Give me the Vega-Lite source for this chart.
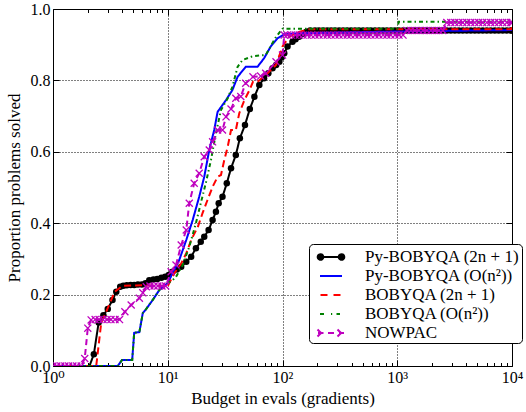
{
  "$schema": "https://vega.github.io/schema/vega-lite/v6.json",
  "width": 459,
  "height": 357,
  "autosize": {"type": "none"},
  "padding": {"left": 53, "top": 9, "right": 14, "bottom": 46},
  "config": {
    "view": {"stroke": "black", "strokeWidth": 1},
    "font": "'Liberation Serif', 'Times New Roman', 'DejaVu Serif', serif",
    "axis": {
      "domain": false,
      "tickColor": "black",
      "tickWidth": 1,
      "gridColor": "black",
      "gridDash": [1, 2],
      "gridWidth": 1,
      "labelFont": "'Liberation Serif', 'Times New Roman', 'DejaVu Serif', serif",
      "labelFontSize": 16,
      "labelColor": "black",
      "titleFont": "'Liberation Serif', 'Times New Roman', 'DejaVu Serif', serif",
      "titleFontSize": 17,
      "titleFontWeight": "normal",
      "titleColor": "black",
      "labelFlush": false,
      "labelOverlap": false,
      "labelBound": false
    }
  },
  "datasets": {
    "curves": [
      {"s": "Py-BOBYQA (2n + 1)", "x": 1, "y": 0},
      {"s": "Py-BOBYQA (2n + 1)", "x": 2.08, "y": 0},
      {"s": "Py-BOBYQA (2n + 1)", "x": 2.27, "y": 0.033},
      {"s": "Py-BOBYQA (2n + 1)", "x": 2.5, "y": 0.122},
      {"s": "Py-BOBYQA (2n + 1)", "x": 2.75, "y": 0.142},
      {"s": "Py-BOBYQA (2n + 1)", "x": 3.0, "y": 0.16},
      {"s": "Py-BOBYQA (2n + 1)", "x": 3.3, "y": 0.185},
      {"s": "Py-BOBYQA (2n + 1)", "x": 3.56, "y": 0.208},
      {"s": "Py-BOBYQA (2n + 1)", "x": 3.85, "y": 0.222},
      {"s": "Py-BOBYQA (2n + 1)", "x": 4.1, "y": 0.225},
      {"s": "Py-BOBYQA (2n + 1)", "x": 4.4, "y": 0.226},
      {"s": "Py-BOBYQA (2n + 1)", "x": 4.75, "y": 0.227},
      {"s": "Py-BOBYQA (2n + 1)", "x": 5.1, "y": 0.227},
      {"s": "Py-BOBYQA (2n + 1)", "x": 5.5, "y": 0.228},
      {"s": "Py-BOBYQA (2n + 1)", "x": 5.95, "y": 0.228},
      {"s": "Py-BOBYQA (2n + 1)", "x": 6.4, "y": 0.232},
      {"s": "Py-BOBYQA (2n + 1)", "x": 6.9, "y": 0.24},
      {"s": "Py-BOBYQA (2n + 1)", "x": 7.5, "y": 0.242},
      {"s": "Py-BOBYQA (2n + 1)", "x": 8.1, "y": 0.244},
      {"s": "Py-BOBYQA (2n + 1)", "x": 8.8, "y": 0.247},
      {"s": "Py-BOBYQA (2n + 1)", "x": 9.5, "y": 0.25},
      {"s": "Py-BOBYQA (2n + 1)", "x": 10.2, "y": 0.255},
      {"s": "Py-BOBYQA (2n + 1)", "x": 11.0, "y": 0.264},
      {"s": "Py-BOBYQA (2n + 1)", "x": 12.0, "y": 0.27},
      {"s": "Py-BOBYQA (2n + 1)", "x": 13.1, "y": 0.278},
      {"s": "Py-BOBYQA (2n + 1)", "x": 14.5, "y": 0.292},
      {"s": "Py-BOBYQA (2n + 1)", "x": 16.0, "y": 0.306},
      {"s": "Py-BOBYQA (2n + 1)", "x": 17.6, "y": 0.33},
      {"s": "Py-BOBYQA (2n + 1)", "x": 19.4, "y": 0.348},
      {"s": "Py-BOBYQA (2n + 1)", "x": 20.8, "y": 0.362},
      {"s": "Py-BOBYQA (2n + 1)", "x": 22.7, "y": 0.381},
      {"s": "Py-BOBYQA (2n + 1)", "x": 24.6, "y": 0.409},
      {"s": "Py-BOBYQA (2n + 1)", "x": 26.3, "y": 0.432},
      {"s": "Py-BOBYQA (2n + 1)", "x": 27.8, "y": 0.456},
      {"s": "Py-BOBYQA (2n + 1)", "x": 30.0, "y": 0.474},
      {"s": "Py-BOBYQA (2n + 1)", "x": 32.7, "y": 0.512},
      {"s": "Py-BOBYQA (2n + 1)", "x": 35.6, "y": 0.554},
      {"s": "Py-BOBYQA (2n + 1)", "x": 39.2, "y": 0.591},
      {"s": "Py-BOBYQA (2n + 1)", "x": 42.5, "y": 0.638},
      {"s": "Py-BOBYQA (2n + 1)", "x": 47.1, "y": 0.675},
      {"s": "Py-BOBYQA (2n + 1)", "x": 51.9, "y": 0.72},
      {"s": "Py-BOBYQA (2n + 1)", "x": 56.9, "y": 0.754},
      {"s": "Py-BOBYQA (2n + 1)", "x": 62.8, "y": 0.787},
      {"s": "Py-BOBYQA (2n + 1)", "x": 69.1, "y": 0.806},
      {"s": "Py-BOBYQA (2n + 1)", "x": 75.3, "y": 0.82},
      {"s": "Py-BOBYQA (2n + 1)", "x": 81.9, "y": 0.834},
      {"s": "Py-BOBYQA (2n + 1)", "x": 88, "y": 0.843},
      {"s": "Py-BOBYQA (2n + 1)", "x": 93.9, "y": 0.852},
      {"s": "Py-BOBYQA (2n + 1)", "x": 98.5, "y": 0.865},
      {"s": "Py-BOBYQA (2n + 1)", "x": 103.6, "y": 0.876},
      {"s": "Py-BOBYQA (2n + 1)", "x": 110.6, "y": 0.895},
      {"s": "Py-BOBYQA (2n + 1)", "x": 122.2, "y": 0.908},
      {"s": "Py-BOBYQA (2n + 1)", "x": 130, "y": 0.915},
      {"s": "Py-BOBYQA (2n + 1)", "x": 139.2, "y": 0.922},
      {"s": "Py-BOBYQA (2n + 1)", "x": 150, "y": 0.93},
      {"s": "Py-BOBYQA (2n + 1)", "x": 162, "y": 0.936},
      {"s": "Py-BOBYQA (2n + 1)", "x": 174, "y": 0.94},
      {"s": "Py-BOBYQA (2n + 1)", "x": 192, "y": 0.94},
      {"s": "Py-BOBYQA (2n + 1)", "x": 208, "y": 0.94},
      {"s": "Py-BOBYQA (2n + 1)", "x": 226, "y": 0.94},
      {"s": "Py-BOBYQA (2n + 1)", "x": 245, "y": 0.94},
      {"s": "Py-BOBYQA (2n + 1)", "x": 265, "y": 0.94},
      {"s": "Py-BOBYQA (2n + 1)", "x": 287, "y": 0.94},
      {"s": "Py-BOBYQA (2n + 1)", "x": 311, "y": 0.94},
      {"s": "Py-BOBYQA (2n + 1)", "x": 337, "y": 0.94},
      {"s": "Py-BOBYQA (2n + 1)", "x": 366, "y": 0.94},
      {"s": "Py-BOBYQA (2n + 1)", "x": 395, "y": 0.94},
      {"s": "Py-BOBYQA (2n + 1)", "x": 428, "y": 0.94},
      {"s": "Py-BOBYQA (2n + 1)", "x": 464, "y": 0.94},
      {"s": "Py-BOBYQA (2n + 1)", "x": 503, "y": 0.94},
      {"s": "Py-BOBYQA (2n + 1)", "x": 546, "y": 0.94},
      {"s": "Py-BOBYQA (2n + 1)", "x": 590, "y": 0.94},
      {"s": "Py-BOBYQA (2n + 1)", "x": 640, "y": 0.94},
      {"s": "Py-BOBYQA (2n + 1)", "x": 693, "y": 0.94},
      {"s": "Py-BOBYQA (2n + 1)", "x": 752, "y": 0.94},
      {"s": "Py-BOBYQA (2n + 1)", "x": 813, "y": 0.94},
      {"s": "Py-BOBYQA (2n + 1)", "x": 881, "y": 0.94},
      {"s": "Py-BOBYQA (2n + 1)", "x": 955, "y": 0.94},
      {"s": "Py-BOBYQA (2n + 1)", "x": 1035, "y": 0.94},
      {"s": "Py-BOBYQA (2n + 1)", "x": 1122, "y": 0.94},
      {"s": "Py-BOBYQA (2n + 1)", "x": 1213, "y": 0.94},
      {"s": "Py-BOBYQA (2n + 1)", "x": 1315, "y": 0.94},
      {"s": "Py-BOBYQA (2n + 1)", "x": 1426, "y": 0.94},
      {"s": "Py-BOBYQA (2n + 1)", "x": 1545, "y": 0.94},
      {"s": "Py-BOBYQA (2n + 1)", "x": 1675, "y": 0.94},
      {"s": "Py-BOBYQA (2n + 1)", "x": 1811, "y": 0.94},
      {"s": "Py-BOBYQA (2n + 1)", "x": 1963, "y": 0.94},
      {"s": "Py-BOBYQA (2n + 1)", "x": 2128, "y": 0.94},
      {"s": "Py-BOBYQA (2n + 1)", "x": 2307, "y": 0.94},
      {"s": "Py-BOBYQA (2n + 1)", "x": 2495, "y": 0.94},
      {"s": "Py-BOBYQA (2n + 1)", "x": 2704, "y": 0.94},
      {"s": "Py-BOBYQA (2n + 1)", "x": 2931, "y": 0.94},
      {"s": "Py-BOBYQA (2n + 1)", "x": 3177, "y": 0.94},
      {"s": "Py-BOBYQA (2n + 1)", "x": 3443, "y": 0.94},
      {"s": "Py-BOBYQA (2n + 1)", "x": 3724, "y": 0.94},
      {"s": "Py-BOBYQA (2n + 1)", "x": 4036, "y": 0.94},
      {"s": "Py-BOBYQA (2n + 1)", "x": 4375, "y": 0.94},
      {"s": "Py-BOBYQA (2n + 1)", "x": 4742, "y": 0.94},
      {"s": "Py-BOBYQA (2n + 1)", "x": 5129, "y": 0.94},
      {"s": "Py-BOBYQA (2n + 1)", "x": 5559, "y": 0.94},
      {"s": "Py-BOBYQA (2n + 1)", "x": 6026, "y": 0.94},
      {"s": "Py-BOBYQA (2n + 1)", "x": 6531, "y": 0.94},
      {"s": "Py-BOBYQA (2n + 1)", "x": 7079, "y": 0.94},
      {"s": "Py-BOBYQA (2n + 1)", "x": 7656, "y": 0.94},
      {"s": "Py-BOBYQA (2n + 1)", "x": 8299, "y": 0.94},
      {"s": "Py-BOBYQA (2n + 1)", "x": 8995, "y": 0.94},
      {"s": "Py-BOBYQA (2n + 1)", "x": 9750, "y": 0.94},
      {"s": "Py-BOBYQA (2n + 1)", "x": 10000, "y": 0.94},

      {"s": "Py-BOBYQA (O(n²))", "x": 1, "y": 0},
      {"s": "Py-BOBYQA (O(n²))", "x": 3.67, "y": 0},
      {"s": "Py-BOBYQA (O(n²))", "x": 4.0, "y": 0.017},
      {"s": "Py-BOBYQA (O(n²))", "x": 4.9, "y": 0.017},
      {"s": "Py-BOBYQA (O(n²))", "x": 5.1, "y": 0.093},
      {"s": "Py-BOBYQA (O(n²))", "x": 5.66, "y": 0.095},
      {"s": "Py-BOBYQA (O(n²))", "x": 6.06, "y": 0.148},
      {"s": "Py-BOBYQA (O(n²))", "x": 6.5, "y": 0.16},
      {"s": "Py-BOBYQA (O(n²))", "x": 7.4, "y": 0.185},
      {"s": "Py-BOBYQA (O(n²))", "x": 8.45, "y": 0.213},
      {"s": "Py-BOBYQA (O(n²))", "x": 10, "y": 0.232},
      {"s": "Py-BOBYQA (O(n²))", "x": 11, "y": 0.26},
      {"s": "Py-BOBYQA (O(n²))", "x": 12.6, "y": 0.297},
      {"s": "Py-BOBYQA (O(n²))", "x": 14.5, "y": 0.353},
      {"s": "Py-BOBYQA (O(n²))", "x": 16.5, "y": 0.409},
      {"s": "Py-BOBYQA (O(n²))", "x": 18.8, "y": 0.474},
      {"s": "Py-BOBYQA (O(n²))", "x": 20.8, "y": 0.53},
      {"s": "Py-BOBYQA (O(n²))", "x": 23, "y": 0.605},
      {"s": "Py-BOBYQA (O(n²))", "x": 25.4, "y": 0.661},
      {"s": "Py-BOBYQA (O(n²))", "x": 27.2, "y": 0.712},
      {"s": "Py-BOBYQA (O(n²))", "x": 32.2, "y": 0.745},
      {"s": "Py-BOBYQA (O(n²))", "x": 36.6, "y": 0.773},
      {"s": "Py-BOBYQA (O(n²))", "x": 40.6, "y": 0.81},
      {"s": "Py-BOBYQA (O(n²))", "x": 47.8, "y": 0.838},
      {"s": "Py-BOBYQA (O(n²))", "x": 60.5, "y": 0.838},
      {"s": "Py-BOBYQA (O(n²))", "x": 69.1, "y": 0.862},
      {"s": "Py-BOBYQA (O(n²))", "x": 79, "y": 0.895},
      {"s": "Py-BOBYQA (O(n²))", "x": 90.4, "y": 0.918},
      {"s": "Py-BOBYQA (O(n²))", "x": 103.6, "y": 0.929},
      {"s": "Py-BOBYQA (O(n²))", "x": 139, "y": 0.932},
      {"s": "Py-BOBYQA (O(n²))", "x": 1000, "y": 0.937},
      {"s": "Py-BOBYQA (O(n²))", "x": 10000, "y": 0.941},

      {"s": "BOBYQA (2n + 1)", "x": 1, "y": 0},
      {"s": "BOBYQA (2n + 1)", "x": 2.38, "y": 0},
      {"s": "BOBYQA (2n + 1)", "x": 2.63, "y": 0.12},
      {"s": "BOBYQA (2n + 1)", "x": 3.0, "y": 0.162},
      {"s": "BOBYQA (2n + 1)", "x": 3.45, "y": 0.208},
      {"s": "BOBYQA (2n + 1)", "x": 4.04, "y": 0.225},
      {"s": "BOBYQA (2n + 1)", "x": 6, "y": 0.226},
      {"s": "BOBYQA (2n + 1)", "x": 10, "y": 0.224},
      {"s": "BOBYQA (2n + 1)", "x": 11.4, "y": 0.26},
      {"s": "BOBYQA (2n + 1)", "x": 13.1, "y": 0.287},
      {"s": "BOBYQA (2n + 1)", "x": 14.5, "y": 0.316},
      {"s": "BOBYQA (2n + 1)", "x": 16, "y": 0.353},
      {"s": "BOBYQA (2n + 1)", "x": 18.3, "y": 0.39},
      {"s": "BOBYQA (2n + 1)", "x": 20.1, "y": 0.428},
      {"s": "BOBYQA (2n + 1)", "x": 22.2, "y": 0.465},
      {"s": "BOBYQA (2n + 1)", "x": 24.6, "y": 0.502},
      {"s": "BOBYQA (2n + 1)", "x": 27.2, "y": 0.53},
      {"s": "BOBYQA (2n + 1)", "x": 29.1, "y": 0.535},
      {"s": "BOBYQA (2n + 1)", "x": 31.1, "y": 0.577},
      {"s": "BOBYQA (2n + 1)", "x": 33.3, "y": 0.614},
      {"s": "BOBYQA (2n + 1)", "x": 35.6, "y": 0.661},
      {"s": "BOBYQA (2n + 1)", "x": 39.2, "y": 0.661},
      {"s": "BOBYQA (2n + 1)", "x": 42, "y": 0.708},
      {"s": "BOBYQA (2n + 1)", "x": 46.6, "y": 0.745},
      {"s": "BOBYQA (2n + 1)", "x": 51.6, "y": 0.773},
      {"s": "BOBYQA (2n + 1)", "x": 55.3, "y": 0.796},
      {"s": "BOBYQA (2n + 1)", "x": 60.5, "y": 0.796},
      {"s": "BOBYQA (2n + 1)", "x": 71.4, "y": 0.815},
      {"s": "BOBYQA (2n + 1)", "x": 87.8, "y": 0.843},
      {"s": "BOBYQA (2n + 1)", "x": 100, "y": 0.895},
      {"s": "BOBYQA (2n + 1)", "x": 114, "y": 0.922},
      {"s": "BOBYQA (2n + 1)", "x": 139, "y": 0.936},
      {"s": "BOBYQA (2n + 1)", "x": 170, "y": 0.943},
      {"s": "BOBYQA (2n + 1)", "x": 9800, "y": 0.943},
      {"s": "BOBYQA (2n + 1)", "x": 10000, "y": 0.95},

      {"s": "BOBYQA (O(n²))", "x": 1, "y": 0},
      {"s": "BOBYQA (O(n²))", "x": 3.67, "y": 0},
      {"s": "BOBYQA (O(n²))", "x": 4.0, "y": 0.017},
      {"s": "BOBYQA (O(n²))", "x": 4.9, "y": 0.017},
      {"s": "BOBYQA (O(n²))", "x": 5.1, "y": 0.093},
      {"s": "BOBYQA (O(n²))", "x": 5.66, "y": 0.095},
      {"s": "BOBYQA (O(n²))", "x": 6.06, "y": 0.148},
      {"s": "BOBYQA (O(n²))", "x": 6.5, "y": 0.16},
      {"s": "BOBYQA (O(n²))", "x": 7.4, "y": 0.185},
      {"s": "BOBYQA (O(n²))", "x": 8.45, "y": 0.213},
      {"s": "BOBYQA (O(n²))", "x": 10, "y": 0.232},
      {"s": "BOBYQA (O(n²))", "x": 11, "y": 0.24},
      {"s": "BOBYQA (O(n²))", "x": 11.8, "y": 0.25},
      {"s": "BOBYQA (O(n²))", "x": 13.5, "y": 0.283},
      {"s": "BOBYQA (O(n²))", "x": 15.4, "y": 0.334},
      {"s": "BOBYQA (O(n²))", "x": 17.6, "y": 0.4},
      {"s": "BOBYQA (O(n²))", "x": 19.4, "y": 0.456},
      {"s": "BOBYQA (O(n²))", "x": 21.6, "y": 0.516},
      {"s": "BOBYQA (O(n²))", "x": 23.8, "y": 0.577},
      {"s": "BOBYQA (O(n²))", "x": 26.3, "y": 0.652},
      {"s": "BOBYQA (O(n²))", "x": 29.1, "y": 0.717},
      {"s": "BOBYQA (O(n²))", "x": 33.3, "y": 0.75},
      {"s": "BOBYQA (O(n²))", "x": 36.6, "y": 0.782},
      {"s": "BOBYQA (O(n²))", "x": 40.6, "y": 0.838},
      {"s": "BOBYQA (O(n²))", "x": 44.8, "y": 0.857},
      {"s": "BOBYQA (O(n²))", "x": 55.3, "y": 0.868},
      {"s": "BOBYQA (O(n²))", "x": 71.4, "y": 0.871},
      {"s": "BOBYQA (O(n²))", "x": 87.8, "y": 0.922},
      {"s": "BOBYQA (O(n²))", "x": 100, "y": 0.945},
      {"s": "BOBYQA (O(n²))", "x": 1000, "y": 0.945},
      {"s": "BOBYQA (O(n²))", "x": 1030, "y": 0.964},
      {"s": "BOBYQA (O(n²))", "x": 10000, "y": 0.964},

      {"s": "NOWPAC", "x": 1, "y": 0},
      {"s": "NOWPAC", "x": 1.08, "y": 0},
      {"s": "NOWPAC", "x": 1.17, "y": 0},
      {"s": "NOWPAC", "x": 1.27, "y": 0},
      {"s": "NOWPAC", "x": 1.37, "y": 0},
      {"s": "NOWPAC", "x": 1.49, "y": 0},
      {"s": "NOWPAC", "x": 1.61, "y": 0},
      {"s": "NOWPAC", "x": 1.76, "y": 0},
      {"s": "NOWPAC", "x": 1.89, "y": 0.021},
      {"s": "NOWPAC", "x": 2.01, "y": 0.106},
      {"s": "NOWPAC", "x": 2.15, "y": 0.129},
      {"s": "NOWPAC", "x": 2.33, "y": 0.13},
      {"s": "NOWPAC", "x": 2.52, "y": 0.13},
      {"s": "NOWPAC", "x": 2.73, "y": 0.13},
      {"s": "NOWPAC", "x": 2.96, "y": 0.13},
      {"s": "NOWPAC", "x": 3.2, "y": 0.13},
      {"s": "NOWPAC", "x": 3.47, "y": 0.13},
      {"s": "NOWPAC", "x": 3.8, "y": 0.13},
      {"s": "NOWPAC", "x": 4.23, "y": 0.152},
      {"s": "NOWPAC", "x": 4.8, "y": 0.171},
      {"s": "NOWPAC", "x": 5.66, "y": 0.19},
      {"s": "NOWPAC", "x": 6.06, "y": 0.205},
      {"s": "NOWPAC", "x": 6.5, "y": 0.222},
      {"s": "NOWPAC", "x": 7.0, "y": 0.224},
      {"s": "NOWPAC", "x": 7.6, "y": 0.224},
      {"s": "NOWPAC", "x": 8.2, "y": 0.224},
      {"s": "NOWPAC", "x": 8.9, "y": 0.224},
      {"s": "NOWPAC", "x": 9.6, "y": 0.224},
      {"s": "NOWPAC", "x": 10.7, "y": 0.264},
      {"s": "NOWPAC", "x": 11.8, "y": 0.283},
      {"s": "NOWPAC", "x": 13.1, "y": 0.339},
      {"s": "NOWPAC", "x": 14.5, "y": 0.381},
      {"s": "NOWPAC", "x": 15.4, "y": 0.456},
      {"s": "NOWPAC", "x": 17.0, "y": 0.512},
      {"s": "NOWPAC", "x": 18.8, "y": 0.54},
      {"s": "NOWPAC", "x": 20.8, "y": 0.586},
      {"s": "NOWPAC", "x": 23.0, "y": 0.605},
      {"s": "NOWPAC", "x": 24.6, "y": 0.628},
      {"s": "NOWPAC", "x": 27.2, "y": 0.661},
      {"s": "NOWPAC", "x": 30, "y": 0.661},
      {"s": "NOWPAC", "x": 32.2, "y": 0.698},
      {"s": "NOWPAC", "x": 35.6, "y": 0.72},
      {"s": "NOWPAC", "x": 39.2, "y": 0.75},
      {"s": "NOWPAC", "x": 43.3, "y": 0.755},
      {"s": "NOWPAC", "x": 47.8, "y": 0.792},
      {"s": "NOWPAC", "x": 55.3, "y": 0.81},
      {"s": "NOWPAC", "x": 64.5, "y": 0.812},
      {"s": "NOWPAC", "x": 71.4, "y": 0.82},
      {"s": "NOWPAC", "x": 87.8, "y": 0.852},
      {"s": "NOWPAC", "x": 100, "y": 0.871},
      {"s": "NOWPAC", "x": 103.6, "y": 0.927},
      {"s": "NOWPAC", "x": 110, "y": 0.927},
      {"s": "NOWPAC", "x": 119, "y": 0.927},
      {"s": "NOWPAC", "x": 129, "y": 0.927},
      {"s": "NOWPAC", "x": 140, "y": 0.927},
      {"s": "NOWPAC", "x": 151, "y": 0.927},
      {"s": "NOWPAC", "x": 164, "y": 0.927},
      {"s": "NOWPAC", "x": 178, "y": 0.927},
      {"s": "NOWPAC", "x": 192, "y": 0.927},
      {"s": "NOWPAC", "x": 208, "y": 0.927},
      {"s": "NOWPAC", "x": 226, "y": 0.927},
      {"s": "NOWPAC", "x": 245, "y": 0.927},
      {"s": "NOWPAC", "x": 265, "y": 0.927},
      {"s": "NOWPAC", "x": 287, "y": 0.927},
      {"s": "NOWPAC", "x": 311, "y": 0.927},
      {"s": "NOWPAC", "x": 337, "y": 0.927},
      {"s": "NOWPAC", "x": 366, "y": 0.927},
      {"s": "NOWPAC", "x": 395, "y": 0.927},
      {"s": "NOWPAC", "x": 428, "y": 0.927},
      {"s": "NOWPAC", "x": 464, "y": 0.927},
      {"s": "NOWPAC", "x": 503, "y": 0.927},
      {"s": "NOWPAC", "x": 546, "y": 0.927},
      {"s": "NOWPAC", "x": 590, "y": 0.927},
      {"s": "NOWPAC", "x": 640, "y": 0.927},
      {"s": "NOWPAC", "x": 693, "y": 0.927},
      {"s": "NOWPAC", "x": 752, "y": 0.927},
      {"s": "NOWPAC", "x": 813, "y": 0.927},
      {"s": "NOWPAC", "x": 881, "y": 0.927},
      {"s": "NOWPAC", "x": 955, "y": 0.927},
      {"s": "NOWPAC", "x": 1035, "y": 0.927},
      {"s": "NOWPAC", "x": 1122, "y": 0.927},
      {"s": "NOWPAC", "x": 1213, "y": 0.94},
      {"s": "NOWPAC", "x": 1315, "y": 0.94},
      {"s": "NOWPAC", "x": 1426, "y": 0.94},
      {"s": "NOWPAC", "x": 1545, "y": 0.94},
      {"s": "NOWPAC", "x": 1675, "y": 0.94},
      {"s": "NOWPAC", "x": 1811, "y": 0.94},
      {"s": "NOWPAC", "x": 1963, "y": 0.94},
      {"s": "NOWPAC", "x": 2128, "y": 0.94},
      {"s": "NOWPAC", "x": 2307, "y": 0.94},
      {"s": "NOWPAC", "x": 2495, "y": 0.94},
      {"s": "NOWPAC", "x": 2704, "y": 0.962},
      {"s": "NOWPAC", "x": 2931, "y": 0.962},
      {"s": "NOWPAC", "x": 3177, "y": 0.962},
      {"s": "NOWPAC", "x": 3443, "y": 0.962},
      {"s": "NOWPAC", "x": 3724, "y": 0.962},
      {"s": "NOWPAC", "x": 4036, "y": 0.962},
      {"s": "NOWPAC", "x": 4375, "y": 0.962},
      {"s": "NOWPAC", "x": 4742, "y": 0.962},
      {"s": "NOWPAC", "x": 5129, "y": 0.962},
      {"s": "NOWPAC", "x": 5559, "y": 0.962},
      {"s": "NOWPAC", "x": 6026, "y": 0.962},
      {"s": "NOWPAC", "x": 6531, "y": 0.962},
      {"s": "NOWPAC", "x": 7079, "y": 0.962},
      {"s": "NOWPAC", "x": 7656, "y": 0.962},
      {"s": "NOWPAC", "x": 8299, "y": 0.962},
      {"s": "NOWPAC", "x": 8995, "y": 0.962},
      {"s": "NOWPAC", "x": 9750, "y": 0.962},
      {"s": "NOWPAC", "x": 10000, "y": 0.962}
    ]
  },
  "data": {"name": "curves"},
  "layer": [
    {
      "transform": [{"filter": "datum.s === 'Py-BOBYQA (2n + 1)'"}],
      "mark": {"type": "line", "strokeWidth": 2, "clip": true},
      "encoding": {
        "x": {
          "field": "x", "type": "quantitative",
          "scale": {"type": "log", "domain": [1, 10000]},
          "axis": {
            "orient": "bottom",
            "values": [1,2,3,4,5,6,7,8,9,10,20,30,40,50,60,70,80,90,100,200,300,400,500,600,700,800,900,1000,2000,3000,4000,5000,6000,7000,8000,9000,10000],
            "labelExpr": "datum.value == 1 ? '10⁰' : datum.value == 10 ? '10¹' : datum.value == 100 ? '10²' : datum.value == 1000 ? '10³' : datum.value == 10000 ? '10⁴' : ''",
            "tickSize": {"condition": {"test": "indexof([1,10,100,1000,10000], datum.value) >= 0", "value": -6}, "value": -3.5},
            "labelPadding": 9,
            "grid": true,
            "gridOpacity": {"condition": {"test": "indexof([10,100,1000], datum.value) >= 0", "value": 1}, "value": 0},
            "title": "Budget in evals (gradients)",
            "titlePadding": 3
          }
        },
        "y": {
          "field": "y", "type": "quantitative",
          "scale": {"domain": [0, 1]},
          "axis": {
            "orient": "left",
            "values": [0, 0.2, 0.4, 0.6, 0.8, 1],
            "format": ".1f",
            "tickSize": -6,
            "labelPadding": 9,
            "grid": true,
            "gridOpacity": {"condition": {"test": "datum.value > 0.01 && datum.value < 0.99", "value": 1}, "value": 0},
            "title": "Proportion problems solved",
            "titlePadding": 7
          }
        },
        "color": {
          "field": "s", "type": "nominal",
          "scale": {
            "domain": ["Py-BOBYQA (2n + 1)", "Py-BOBYQA (O(n²))", "BOBYQA (2n + 1)", "BOBYQA (O(n²))", "NOWPAC"],
            "range": ["#000000", "#0000ff", "#ff0000", "#008000", "#bf00bf"]
          },
          "legend": {
            "orient": "none", "legendX": 256, "legendY": 235,
            "title": null,
            "strokeColor": "black", "fillColor": "white", "cornerRadius": 4,
            "padding": 2,
            "labelFont": "'Liberation Serif', 'Times New Roman', 'DejaVu Serif', serif", "labelFontSize": 17, "labelColor": "black", "labelLimit": 300,
            "symbolSize": 400, "symbolStrokeWidth": 2, "symbolOffset": 9, "labelOffset": 23,
            "rowPadding": 0,
            "encode": {
              "symbols": {
                "update": {
                  "shape": [
                    {"test": "datum.value === 'Py-BOBYQA (2n + 1)'", "value": "M-1.1,0L1.1,0M-0.77,0A0.28,0.28,0,1,1,-1.33,0A0.28,0.28,0,1,1,-0.77,0ZM1.33,0A0.28,0.28,0,1,1,0.77,0A0.28,0.28,0,1,1,1.33,0Z"},
                    {"test": "datum.value === 'Py-BOBYQA (O(n²))'", "value": "M-1.1,0L1.1,0"},
                    {"test": "datum.value === 'BOBYQA (2n + 1)'", "value": "M-1.05,0L-0.3,0M0.25,0L1.0,0"},
                    {"test": "datum.value === 'BOBYQA (O(n²))'", "value": "M-1.1,0L-0.6,0M0.0,0L0.12,0M0.55,0L0.9,0"},
                    {"value": "M-1.3,0L-0.75,0M-0.3,0L0.45,0M0.8,0L1.3,0M-1.35,-0.35L-0.65,0.35M-1.35,0.35L-0.65,-0.35M0.65,-0.35L1.35,0.35M0.65,0.35L1.35,-0.35"}
                  ],
                  "fill": [
                    {"test": "datum.value === 'Py-BOBYQA (2n + 1)'", "value": "black"},
                    {"value": "transparent"}
                  ],
                  "strokeDash": {"value": [1, 0]}
                }
              }
            }
          }
        },
        "strokeDash": {
          "field": "s", "type": "nominal",
          "scale": {
            "domain": ["Py-BOBYQA (2n + 1)", "Py-BOBYQA (O(n²))", "BOBYQA (2n + 1)", "BOBYQA (O(n²))", "NOWPAC"],
            "range": [[1, 0], [1, 0], [7, 4], [4, 3, 1.5, 3], [6, 4]]
          },
          "legend": null
        }
      }
    },
    {
      "transform": [{"filter": "datum.s === 'Py-BOBYQA (2n + 1)' && datum.x >= 2.2"}],
      "mark": {"type": "point", "shape": "circle", "filled": true, "color": "black", "size": 42, "opacity": 1, "clip": true},
      "encoding": {
        "x": {
          "field": "x", "type": "quantitative",
          "axis": {
            "orient": "top",
            "values": [1,2,3,4,5,6,7,8,9,10,20,30,40,50,60,70,80,90,100,200,300,400,500,600,700,800,900,1000,2000,3000,4000,5000,6000,7000,8000,9000,10000],
            "labels": false, "grid": false, "title": null,
            "tickSize": {"condition": {"test": "indexof([1,10,100,1000,10000], datum.value) >= 0", "value": -6}, "value": -3.5}
          }
        },
        "y": {
          "field": "y", "type": "quantitative",
          "axis": {
            "orient": "right",
            "values": [0, 0.2, 0.4, 0.6, 0.8, 1],
            "labels": false, "grid": false, "title": null,
            "tickSize": -6
          }
        }
      }
    },
    {
      "transform": [{"filter": "datum.s !== 'Py-BOBYQA (2n + 1)'"}],
      "mark": {"type": "line", "strokeWidth": 2, "clip": true},
      "encoding": {
        "x": {"field": "x", "type": "quantitative", "axis": null},
        "y": {"field": "y", "type": "quantitative", "axis": null},
        "color": {
          "field": "s", "type": "nominal",
          "scale": {
            "domain": ["Py-BOBYQA (2n + 1)", "Py-BOBYQA (O(n²))", "BOBYQA (2n + 1)", "BOBYQA (O(n²))", "NOWPAC"],
            "range": ["#000000", "#0000ff", "#ff0000", "#008000", "#bf00bf"]
          }
        },
        "strokeDash": {
          "field": "s", "type": "nominal",
          "scale": {
            "domain": ["Py-BOBYQA (2n + 1)", "Py-BOBYQA (O(n²))", "BOBYQA (2n + 1)", "BOBYQA (O(n²))", "NOWPAC"],
            "range": [[1, 0], [1, 0], [7, 4], [4, 3, 1.5, 3], [6, 4]]
          },
          "legend": null
        }
      }
    },
    {
      "transform": [{"filter": "datum.s === 'NOWPAC'"}],
      "mark": {"type": "point", "shape": "M-1,-1L1,1M-1,1L1,-1", "filled": false, "stroke": "#bf00bf", "strokeWidth": 1.3, "size": 50, "opacity": 1, "clip": true},
      "encoding": {
        "x": {"field": "x", "type": "quantitative", "axis": null},
        "y": {"field": "y", "type": "quantitative", "axis": null}
      }
    }
  ]
}
